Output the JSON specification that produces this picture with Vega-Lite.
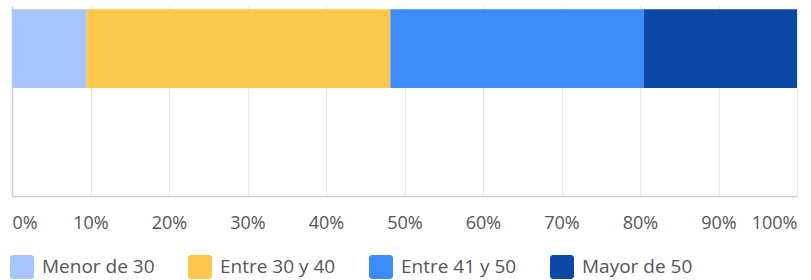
{
  "$schema": "https://vega.github.io/schema/vega-lite/v6.json",
  "width": 785,
  "height": 190,
  "autosize": {"type": "none"},
  "padding": {"left": 12, "top": 6, "right": 14, "bottom": 84},
  "background": "white",
  "config": {
    "view": {"stroke": null},
    "font": "Open Sans"
  },
  "data": {
    "values": [
      {"grupo": "Total", "edad": "Menor de 30", "valor": 0.095, "orden": 1},
      {"grupo": "Total", "edad": "Entre 30 y 40", "valor": 0.387, "orden": 2},
      {"grupo": "Total", "edad": "Entre 41 y 50", "valor": 0.323, "orden": 3},
      {"grupo": "Total", "edad": "Mayor de 50", "valor": 0.195, "orden": 4}
    ]
  },
  "mark": {"type": "bar"},
  "encoding": {
    "y": {
      "field": "grupo",
      "type": "nominal",
      "scale": {"domain": ["Total", "_vacío"], "paddingInner": 0.25, "paddingOuter": 0.03},
      "axis": {"labels": false, "ticks": false, "title": null, "domainColor": "#cccccc", "domainWidth": 1.5, "grid": false}
    },
    "x": {
      "field": "valor",
      "type": "quantitative",
      "stack": true,
      "scale": {"domain": [0, 1], "nice": false},
      "axis": {
        "title": null,
        "format": ".0%",
        "values": [0, 0.1, 0.2, 0.3, 0.4, 0.5, 0.6, 0.7, 0.8, 0.9, 1],
        "ticks": false,
        "grid": true,
        "gridColor": "#e6e6e6",
        "gridWidth": 1,
        "domainColor": "#cccccc",
        "domainWidth": 1.5,
        "labelFontSize": 18,
        "labelColor": "#555555",
        "labelPadding": 18,
        "labelFlush": true
      }
    },
    "color": {
      "field": "edad",
      "type": "nominal",
      "scale": {
        "domain": ["Menor de 30", "Entre 30 y 40", "Entre 41 y 50", "Mayor de 50"],
        "range": ["#a7c5fc", "#fdc74b", "#3e8bfb", "#0b48a8"]
      },
      "legend": {
        "title": null,
        "orient": "none",
        "direction": "horizontal",
        "legendX": -2,
        "legendY": 249,
        "symbolType": "M-0.75,-1H0.75A0.25,0.25 0 0 1 1,-0.75V0.75A0.25,0.25 0 0 1 0.75,1H-0.75A0.25,0.25 0 0 1 -1,0.75V-0.75A0.25,0.25 0 0 1 -0.75,-1Z",
        "symbolSize": 576,
        "symbolStrokeWidth": 0,
        "symbolOpacity": 1,
        "labelFontSize": 19,
        "labelColor": "#555555",
        "labelOffset": 8,
        "columnPadding": 33,
        "labelLimit": 300
      }
    },
    "order": {"field": "orden", "type": "quantitative"}
  }
}
